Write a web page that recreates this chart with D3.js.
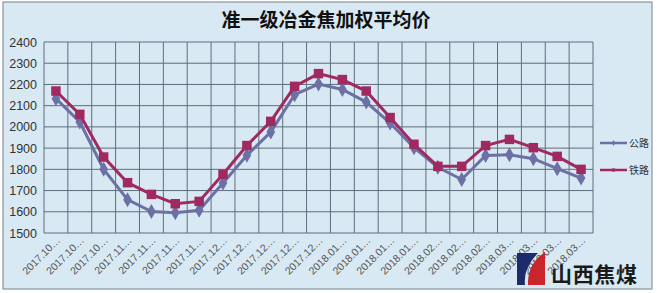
<!DOCTYPE html>
<html>
<head>
<meta charset="utf-8">
<script src="https://cdn.jsdelivr.net/npm/d3@7"></script>
<style>
  body { margin: 0; background: #fff; }
  svg { display: block; font-family: "Noto Sans CJK SC", "DejaVu Sans", sans-serif; }
</style>
</head>
<body>
<svg id="chart" width="657" height="293"></svg>
<script>
// weekly categories, labels are cut off in the original so only month is shown
var months = ['2017.10', '2017.10', '2017.10',
  '2017.11', '2017.11', '2017.11', '2017.11',
  '2017.12', '2017.12', '2017.12', '2017.12', '2017.12',
  '2018.01', '2018.01', '2018.01', '2018.01',
  '2018.02', '2018.02', '2018.02',
  '2018.03', '2018.03', '2018.03', '2018.03']
var gonglu = [2133, 2023, 1800, 1657, 1601, 1596, 1607, 1736, 1866, 1976, 2152, 2202,
  2176, 2117, 2018, 1902, 1810, 1752, 1865, 1869, 1850, 1803, 1759]
var tielu = [2169, 2059, 1858, 1737, 1682, 1638, 1649, 1777, 1912, 2026, 2191, 2251,
  2223, 2169, 2044, 1918, 1814, 1814, 1912, 1941, 1902, 1861, 1800]
var yTicks = [1500, 1600, 1700, 1800, 1900, 2000, 2100, 2200, 2300, 2400]
var seriesNames = ['公路', '铁路']

var BG = '#d8e9f3'
var GRID = '#5e6e7c'
var BLUE = '#6c70a4'
var RED = '#a02a60'

var svg = d3.select('#chart')
svg.append('rect')
  .attr('x', 3).attr('y', 2).attr('width', 649).attr('height', 287)
  .attr('fill', BG).attr('stroke', '#8a949c').attr('stroke-width', 1.2)

svg.append('text')
  .attr('x', 326).attr('y', 27)
  .attr('text-anchor', 'middle')
  .attr('font-size', 19).attr('font-weight', 'bold').attr('fill', '#111')
  .text('准一级冶金焦加权平均价')

var plotL = 44, plotR = 593, plotT = 42, plotB = 233
var x = d3.scaleBand().domain(d3.range(months.length)).range([plotL, plotR])
var y = d3.scaleLinear().domain([1500, 2400]).range([plotB, plotT])

// grid
svg.append('g').selectAll('line')
  .data(yTicks)
  .join('line')
  .attr('x1', plotL).attr('x2', plotR)
  .attr('y1', d => y(d)).attr('y2', d => y(d))
  .attr('stroke', GRID).attr('stroke-width', 1)

svg.append('g').selectAll('line')
  .data(d3.range(months.length + 1))
  .join('line')
  .attr('x1', d => plotL + d * x.step()).attr('x2', d => plotL + d * x.step())
  .attr('y1', plotT).attr('y2', plotB)
  .attr('stroke', GRID).attr('stroke-width', 1)

// y axis labels
var yAxis = d3.axisLeft(y).tickValues(yTicks).tickSize(0).tickPadding(6).tickFormat(d3.format('d'))
var gy = svg.append('g').attr('transform', 'translate(' + plotL + ',0)').call(yAxis)
gy.select('.domain').remove()
gy.selectAll('text').attr('font-size', 12.5).attr('fill', '#333')
  .attr('font-family', '"Liberation Sans", sans-serif').attr('x', -7)

// x axis labels
var xAxis = d3.axisBottom(x).tickSize(0).tickFormat(function (i) { return months[i] + '…' })
var gx = svg.append('g').attr('transform', 'translate(0,' + plotB + ')').call(xAxis)
gx.select('.domain').remove()
gx.selectAll('text')
  .attr('font-size', 10.5).attr('fill', '#555')
  .attr('font-family', '"Liberation Sans", sans-serif')
  .attr('text-anchor', 'end')
  .attr('dy', 0).attr('y', 0)
  .attr('transform', 'translate(5,8) rotate(-45)')

// lines
var line = d3.line()
  .x(function (d, i) { return x(i) + x.bandwidth() / 2 })
  .y(function (d) { return y(d) })

function drawSeries (data, color, marker) {
  svg.append('path')
    .datum(data)
    .attr('fill', 'none')
    .attr('stroke', color)
    .attr('stroke-width', 3)
    .attr('d', line)
  svg.append('g').selectAll('path')
    .data(data)
    .join('path')
    .attr('transform', function (d, i) {
      return 'translate(' + (x(i) + x.bandwidth() / 2) + ',' + y(d) + ')'
    })
    .attr('d', d3.symbol().type(marker).size(marker === d3.symbolSquare ? 90 : 65))
    .attr('fill', color)
}
drawSeries(gonglu, BLUE, d3.symbolDiamond)
drawSeries(tielu, RED, d3.symbolSquare)

// legend
var legend = svg.append('g').selectAll('g')
  .data(seriesNames)
  .join('g')
  .attr('transform', function (d, i) { return 'translate(600,' + (143 + i * 27) + ')' })
legend.append('line')
  .attr('x1', 0).attr('x2', 27).attr('y1', 0).attr('y2', 0)
  .attr('stroke', function (d, i) { return i ? RED : BLUE }).attr('stroke-width', 2.5)
legend.append('path')
  .attr('transform', 'translate(13.5,0)')
  .attr('d', function (d, i) { return d3.symbol().type(i ? d3.symbolSquare : d3.symbolDiamond).size(10)() })
  .attr('fill', function (d, i) { return i ? RED : BLUE })
legend.append('text')
  .attr('x', 29).attr('y', 4)
  .attr('font-size', 10).attr('fill', '#333')
  .text(d => d)

// watermark logo
var logo = svg.append('g')
logo.append('path')
  .attr('d', 'M517,253 L538,253 Q523,268 525,285 L517,285 Z')
  .attr('fill', '#1d2a6b')
logo.append('path')
  .attr('d', 'M545,252 L545,285 L528,285 Q527,264 545,252 Z')
  .attr('fill', '#c8262c')
logo.append('text')
  .attr('x', 551).attr('y', 282)
  .attr('font-size', 21).attr('font-weight', 'bold').attr('fill', '#1a1a1a')
  .attr('textLength', 86)
  .text('山西焦煤')
</script>
</body>
</html>
